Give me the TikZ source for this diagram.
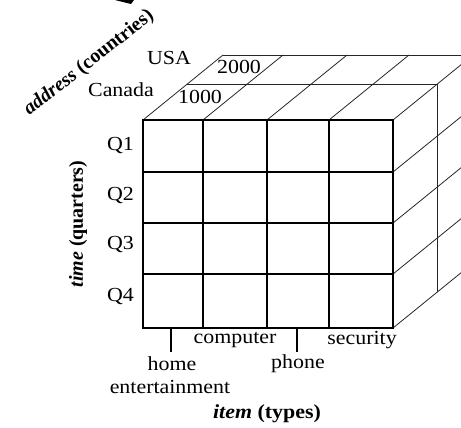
\documentclass[tikz,border=0pt]{standalone}
\usepackage{fontspec}
\setmainfont{Liberation Serif}
\newfontfamily\widefont[FakeStretch=1.1]{Liberation Serif}
\begin{document}
\begin{tikzpicture}[x=1bp,y=-1bp,
  front/.style={line width=1.1bp,black},
  depth/.style={line width=0.8bp,black!85},
  lbl/.style={inner sep=0pt,font=\widefont\fontsize{20}{23}\selectfont},
  axis/.style={inner sep=0pt,font=\fontsize{20}{23}\selectfont\bfseries},
  waxis/.style={axis,font=\widefont\fontsize{20}{23}\selectfont\bfseries}]
\useasboundingbox (0,0) rectangle (461,427);
\clip (0,0) rectangle (461,427);

% tip of an arrow at the top edge
\fill (115,0) -- (134,0) -- (131,4) -- cycle;

% top face: depth lines from each column, two layers deep
\foreach \x in {143,203,267,329,393}
  \draw[depth] (\x,120) -- ++(80,-65);
\draw[depth] (187,84) -- (437,84);
\draw[depth] (223,55) -- (473,55);

% right face: depth lines from each row
\foreach \y in {172,223,274,328}
  \draw[depth] (393,\y) -- ++(80,-65);
\draw[depth] (437,84) -- (437,292);

% front face grid: time (rows) by item (columns)
\foreach \x in {203,267,329}
  \draw[front] (\x,120) -- (\x,328);
\foreach \y in {172,223,274}
  \draw[front] (143,\y) -- (393,\y);
\draw[front] (143,120) rectangle (393,328);

% item ticks
\coordinate (t1) at (171,328);
\coordinate (t2) at (297,328);
\draw[front] (t1) -- ++(0,24);
\draw[front] (t2) -- ++(0,24);

% cell values
\node[lbl] (v1000) at (200,97) {1000};
\node[lbl] (v2000) at (239,67) {2000};

% address members
\node[lbl] (usa) at (169,58) {USA};
\node[lbl] (canada) at (121,90) {Canada};

% time members
\node[lbl,anchor=east] (q1) at (134,146) {Q1};
\node[lbl,anchor=east] (q2) at (134,196) {Q2};
\node[lbl,anchor=east] (q3) at (134,245) {Q3};
\node[lbl,anchor=east] (q4) at (134,297) {Q4};

% item members
\node[lbl] (computer) at (235,340) {computer};
\node[lbl] (security) at (362,340) {security};
\node[lbl] (home) at (172,364) {home};
\node[lbl] (entertainment) at (170,387) {entertainment};
\node[lbl] (phone) at (298,364) {phone};

% dimension names
\node[axis,rotate=38] (addr) at (89,63) {\textit{address} (countries)};
\node[axis,rotate=90] (time) at (78,224) {\textit{time} (quarters)};
\node[waxis] (item) at (267,414) {\textit{item} (types)};
\end{tikzpicture}
\end{document}
